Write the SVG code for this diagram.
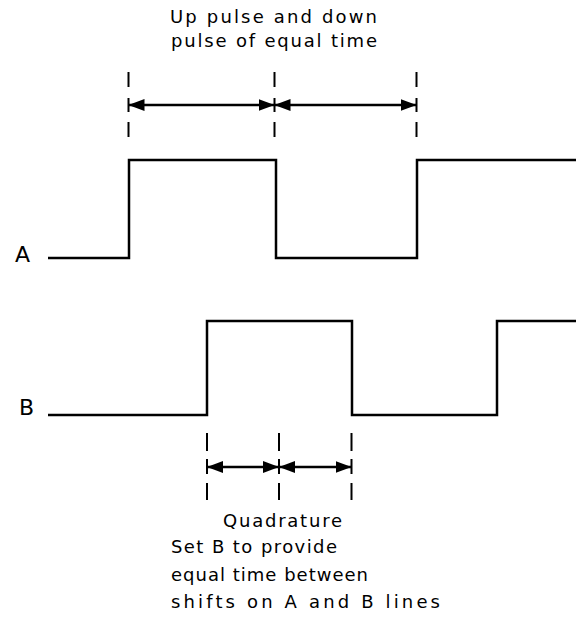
<svg xmlns="http://www.w3.org/2000/svg" width="576" height="617" viewBox="0 0 576 617">
  <style>
    .wave { fill: none; stroke: #000; stroke-width: 2.5; stroke-linejoin: miter; }
    .dash { stroke: #000; stroke-width: 2; }
    .dim { stroke: #000; stroke-width: 2.5; marker-start: url(#ah); marker-end: url(#ah); }
    .txt { font-family: "DejaVu Sans", "Liberation Sans", sans-serif; font-size: 18px; fill: #000; }
    .lbl { font-family: "DejaVu Sans", "Liberation Sans", sans-serif; font-size: 22px; fill: #000; }
  </style>
  <defs>
    <marker id="ah" viewBox="0 0 16 12" refX="16" refY="6" markerWidth="16" markerHeight="12" markerUnits="userSpaceOnUse" orient="auto-start-reverse">
      <path d="M0,0 L16,6 L0,12 Z" fill="#000"/>
    </marker>
  </defs>
  <rect width="576" height="617" fill="#fff"/>

  <g id="title">
    <text class="txt" x="170" y="23" textLength="207" lengthAdjust="spacing">Up pulse and down</text>
    <text class="txt" x="171" y="47" textLength="206" lengthAdjust="spacing">pulse of equal time</text>
  </g>

  <g id="signal-A">
    <text class="lbl" x="15" y="262">A</text>
    <polyline class="wave" points="48,258 129,258 129,160 276,160 276,258 417,258 417,160 576,160"/>
  </g>

  <g id="signal-B">
    <text class="lbl" x="19" y="415">B</text>
    <polyline class="wave" points="48,415 207,415 207,321 352,321 352,415 497,415 497,321 576,321"/>
  </g>

  <g id="connectors">
    <g id="top-dimension">
      <line class="dash" x1="128.5" y1="72" x2="128.5" y2="87"/>
      <line class="dash" x1="128.5" y1="98" x2="128.5" y2="112"/>
      <line class="dash" x1="128.5" y1="122" x2="128.5" y2="137"/>
      <line class="dash" x1="274.5" y1="72" x2="274.5" y2="87"/>
      <line class="dash" x1="274.5" y1="98" x2="274.5" y2="112"/>
      <line class="dash" x1="274.5" y1="122" x2="274.5" y2="137"/>
      <line class="dash" x1="416.5" y1="72" x2="416.5" y2="87"/>
      <line class="dash" x1="416.5" y1="98" x2="416.5" y2="112"/>
      <line class="dash" x1="416.5" y1="122" x2="416.5" y2="137"/>
      <line class="dim" x1="128.5" y1="105" x2="274.5" y2="105"/>
      <line class="dim" x1="274.5" y1="105" x2="416.5" y2="105"/>
    </g>
    <g id="bottom-dimension">
      <line class="dash" x1="207" y1="433" x2="207" y2="451"/>
      <line class="dash" x1="207" y1="459" x2="207" y2="474"/>
      <line class="dash" x1="207" y1="483" x2="207" y2="500"/>
      <line class="dash" x1="279" y1="433" x2="279" y2="451"/>
      <line class="dash" x1="279" y1="459" x2="279" y2="474"/>
      <line class="dash" x1="279" y1="483" x2="279" y2="500"/>
      <line class="dash" x1="351.5" y1="433" x2="351.5" y2="451"/>
      <line class="dash" x1="351.5" y1="459" x2="351.5" y2="474"/>
      <line class="dash" x1="351.5" y1="483" x2="351.5" y2="500"/>
      <line class="dim" x1="207" y1="467" x2="279" y2="467"/>
      <line class="dim" x1="279" y1="467" x2="351.5" y2="467"/>
    </g>
  </g>

  <g id="caption">
    <text class="txt" x="223" y="527" textLength="119" lengthAdjust="spacing">Quadrature</text>
    <text class="txt" x="171" y="553" textLength="166" lengthAdjust="spacing">Set B to provide</text>
    <text class="txt" x="171" y="581" textLength="197" lengthAdjust="spacing">equal time between</text>
    <text class="txt" x="171" y="608" textLength="269" lengthAdjust="spacing">shifts on A and B lines</text>
  </g>
</svg>
